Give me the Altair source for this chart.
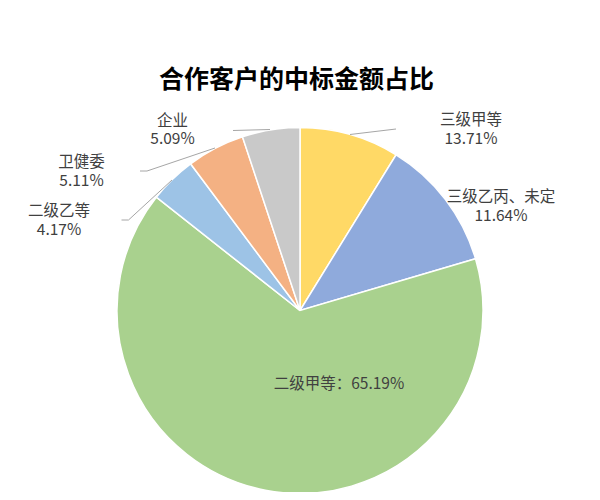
import altair as alt
import pandas as pd

# ---- data ----
categories = ["三级甲等", "三级乙丙、未定", "二级甲等", "二级乙等", "卫健委", "企业"]
# slice sizes as drawn in the picture (percent of the circle)
shares_drawn = [8.80, 11.64, 65.19, 4.17, 5.11, 5.09]
# percentages printed on the labels
label_pcts = ["13.71%", "11.64%", "65.19%", "4.17%", "5.11%", "5.09%"]
colors = ["#FFD966", "#8FAADC", "#A9D18E", "#9DC3E6", "#F4B183", "#C9C9C9"]
title_text = "合作客户的中标金额占比"

# ---- layout (page pixels) ----
M = 8
W, H = 584, 484
CX, CY, R = 300, 310.5, 183
# label anchors: (x, name-line y, pct-line y)
label_layout = {
    "三级甲等": (471, 120, 138.5),
    "三级乙丙、未定": (501, 197, 215.5),
    "二级乙等": (59, 211, 229.5),
    "卫健委": (81.5, 162, 180.5),
    "企业": (172.5, 120.5, 139),
}
inside_layout = {"二级甲等": (339, 383.5)}
leader_segments = [
    (350, 134.5, 396, 129),
    (233, 130.5, 270, 129.5),
    (140, 171, 147, 171),
    (147, 171, 215, 148),
    (121.5, 220, 128.5, 220),
    (128.5, 220, 172, 180),
]

pie_df = pd.DataFrame({
    "cat": categories,
    "share": shares_drawn,
    "idx": list(range(len(categories))),
})

pie = alt.Chart(pie_df).mark_arc(
    outerRadius=R, stroke="white", strokeWidth=1.5
).encode(
    theta=alt.Theta("share:Q", stack=True),
    order=alt.Order("idx:Q", sort="ascending"),
    color=alt.Color("cat:N", scale=alt.Scale(domain=categories, range=colors), legend=None),
    x=alt.value(CX - M),
    y=alt.value(CY - M),
)

rows = []
for cat, pct in zip(categories, label_pcts):
    if cat in label_layout:
        lx, y1, y2 = label_layout[cat]
        rows.append({"t": cat, "x": lx - M, "y": y1 - M})
        rows.append({"t": pct, "x": lx - M, "y": y2 - M})
    else:
        lx, ly = inside_layout[cat]
        rows.append({"t": f"{cat}：{pct}", "x": lx - M, "y": ly - M})
lab_df = pd.DataFrame(rows)

xs = alt.Scale(domain=[0, W], range=[0, W])
ys = alt.Scale(domain=[0, H], range=[0, H])

labels = alt.Chart(lab_df).mark_text(
    font="Noto Sans CJK SC", fontSize=15.5, color="#404040", align="center", baseline="middle"
).encode(
    x=alt.X("x:Q", scale=xs, axis=None),
    y=alt.Y("y:Q", scale=ys, axis=None),
    text="t:N",
)

seg_df = pd.DataFrame(
    [{"x": a - M, "y": b - M, "x2": c - M, "y2": d - M} for a, b, c, d in leader_segments]
)
leaders = alt.Chart(seg_df).mark_rule(color="#A6A6A6", strokeWidth=1).encode(
    x=alt.X("x:Q", scale=xs, axis=None),
    y=alt.Y("y:Q", scale=ys, axis=None),
    x2="x2:Q",
    y2="y2:Q",
)

title_df = pd.DataFrame({"t": [title_text], "x": [296.5 - M], "y": [80 - M]})
title = alt.Chart(title_df).mark_text(
    font="Noto Sans CJK SC", fontSize=25, fontWeight="bold", color="#000000",
    align="center", baseline="middle"
).encode(
    x=alt.X("x:Q", scale=xs, axis=None),
    y=alt.Y("y:Q", scale=ys, axis=None),
    text="t:N",
)

chart = alt.layer(pie, leaders, labels, title).properties(
    width=W, height=H, padding=0, autosize=alt.AutoSizeParams(type="none")
).configure_view(stroke=None).resolve_scale(x="shared", y="shared")

chart.save("out.html", embed_options={"renderer": "svg", "actions": False})
